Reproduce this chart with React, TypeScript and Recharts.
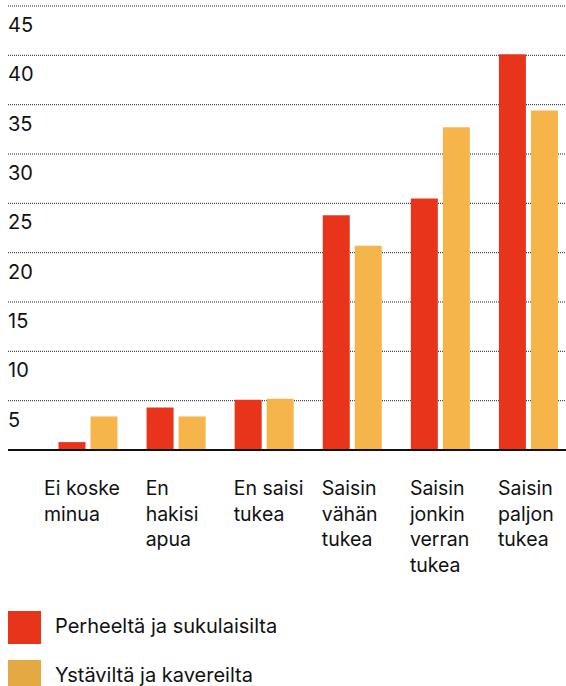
import React from 'react';
import { BarChart, Bar, XAxis, YAxis, CartesianGrid } from 'recharts';

const categories = [
  'Ei koske\nminua',
  'En\nhakisi\napua',
  'En saisi\ntukea',
  'Saisin\nvähän\ntukea',
  'Saisin\njonkin\nverran\ntukea',
  'Saisin\npaljon\ntukea',
];
const family = [0.8, 4.3, 5.1, 23.8, 25.5, 40.1];
const friends = [3.4, 3.4, 5.2, 20.7, 32.7, 34.4];
const yTicks = [5, 10, 15, 20, 25, 30, 35, 40, 45];
const seriesNames = ['Perheeltä ja sukulaisilta', 'Ystäviltä ja kavereilta'];

const RED = '#e7341a';
const ORANGE = '#f6b54a';
const LEGEND_ORANGE = '#e5a944';
const FONT = 'Inter, "Noto Sans", sans-serif';

const data = categories.map((name, i) => ({
  name,
  family: family[i],
  friends: friends[i],
}));

const renderYTick = (props: any) => {
  const { y, payload } = props;
  return (
    <text x={8} y={y + 26} fontSize={20} fill="#111" fontFamily={FONT} textAnchor="start">
      {payload.value}
    </text>
  );
};

const renderXTick = (props: any) => {
  const { x, payload, index } = props;
  const lines = String(payload.value).split('\n');
  const left = index === 0 ? x - 43.5 : x - 30;
  return (
    <text x={left} y={495} fontSize={19.5} fill="#111" fontFamily={FONT} textAnchor="start">
      {lines.map((l, i) => (
        <tspan key={i} x={left} dy={i === 0 ? 0 : 25.7}>
          {l}
        </tspan>
      ))}
    </text>
  );
};

const App: React.FC = () => {
  const legendColors = [RED, LEGEND_ORANGE];
  return (
    <div
      style={{
        position: 'absolute',
        left: 0,
        top: 0,
        width: 566,
        height: 686,
        overflow: 'hidden',
        background: '#fff',
        fontFamily: FONT,
      }}
    >
      <BarChart
        width={572}
        height={590}
        data={data}
        margin={{ top: 6, right: 0, bottom: 0, left: 7 }}
        barSize={27}
        barGap={5}
      >
        <CartesianGrid
          vertical={false}
          stroke="#222"
          strokeDasharray="1 1"
          horizontalValues={yTicks}
        />
        <YAxis
          width={1}
          domain={[0, 45]}
          ticks={yTicks}
          interval={0}
          axisLine={false}
          tickLine={false}
          tick={renderYTick}
        />
        <XAxis
          dataKey="name"
          height={140}
          padding={{ left: 35.5, right: 0 }}
          axisLine={{ stroke: '#111', strokeWidth: 2 }}
          tickLine={false}
          interval={0}
          tick={renderXTick}
        />
        <Bar dataKey="family" name={seriesNames[0]} fill={RED} isAnimationActive={false} />
        <Bar dataKey="friends" name={seriesNames[1]} fill={ORANGE} isAnimationActive={false} />
      </BarChart>
      {seriesNames.map((s, i) => (
        <div
          key={s}
          style={{
            position: 'absolute',
            left: 8,
            top: 611 + i * 49,
            height: 33,
            display: 'flex',
            alignItems: 'center',
          }}
        >
          <span style={{ width: 33, height: 33, background: legendColors[i], display: 'inline-block' }} />
          <span style={{ marginLeft: 14, marginTop: -4, fontSize: 20, lineHeight: '24px', color: '#111' }}>{s}</span>
        </div>
      ))}
    </div>
  );
};

export default App;
